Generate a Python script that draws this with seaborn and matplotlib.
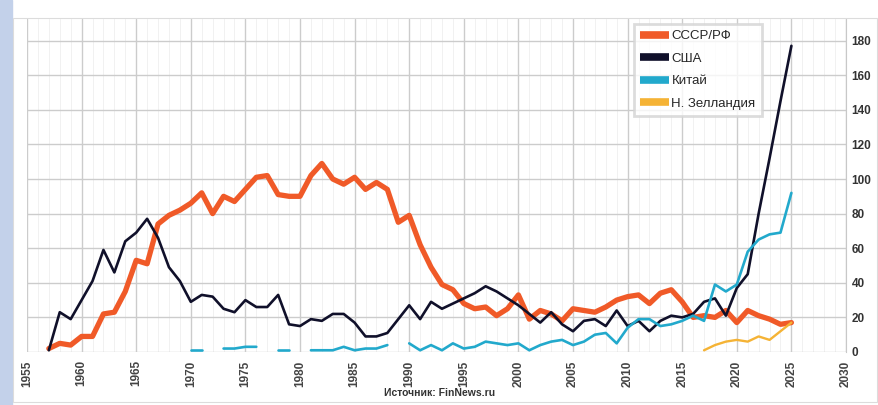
import numpy as np
import pandas as pd
import matplotlib
matplotlib.use("Agg")
import matplotlib.pyplot as plt
import seaborn as sns
from matplotlib.patches import Rectangle
from matplotlib.lines import Line2D

# Launches per year
years = list(range(1957, 2026))

ussr = [2, 5, 4, 9, 9, 22, 23, 35, 53, 51, 74, 79, 82, 86, 92, 80, 90, 87, 94, 101,
        102, 91, 90, 90, 102, 109, 100, 97, 101, 94, 98, 94, 75, 79, 62, 49, 39, 36,
        28, 25, 26, 21, 25, 33, 19, 24, 22, 18, 25, 24, 23, 26, 30, 32, 33, 28, 34,
        36, 29, 20, 21, 20, 24, 17, 24, 21, 19, 16, 17]

usa = [1, 23, 19, 30, 41, 59, 46, 64, 69, 77, 66, 49, 41, 29, 33, 32, 25, 23, 30, 26,
       26, 33, 16, 15, 19, 18, 22, 22, 17, 9, 9, 11, 19, 27, 19, 29, 25, 28, 31, 34,
       38, 35, 31, 27, 22, 17, 23, 16, 12, 18, 19, 15, 24, 15, 18, 12, 18, 21, 20,
       22, 29, 31, 21, 37, 45, 80, 112, 145, 177]

nan = np.nan
china = [nan] * 13 + [1, 1, nan, 2, 2, 3, 3, nan, 1, 1, nan, 1, 1, 1, 3, 1, 2, 2, 4,
         nan, 5, 1, 4, 1, 5, 2, 3, 6, 5, 4, 5, 1, 4, 6, 7, 4, 6, 10, 11, 5, 14, 19,
         19, 15, 16, 18, 21, 18, 39, 35, 39, 58, 65, 68, 69, 92]

nz = [nan] * 60 + [1, 4, 6, 7, 6, 9, 7, 12, 17]

names = ["СССР/РФ", "США", "Китай", "Н. Зелландия"]
colors = ["#f05a28", "#10102a", "#22a9cc", "#f5b335"]
widths = [3.8, 1.9, 1.9, 1.7]

frames = []
for name, vals in zip(names, [ussr, usa, china, nz]):
    d = pd.DataFrame({"year": years, "value": vals, "country": name})
    # split each series where data is missing so gaps stay open
    d["seg"] = d["value"].isna().cumsum()
    frames.append(d.dropna())
df = pd.concat(frames, ignore_index=True)

sns.set_style("white")
plt.rcParams["font.family"] = ["Liberation Sans Narrow", "Liberation Sans", "DejaVu Sans"]

fig = plt.figure(figsize=(8.79, 4.05), dpi=100)
fig.patches.append(Rectangle((0, 0), 12 / 879, 1, transform=fig.transFigure,
                             color="#c3d1ea", zorder=0))
fig.patches.append(Rectangle((13 / 879, 3 / 405), 864 / 879, 384 / 405,
                             transform=fig.transFigure, facecolor="none",
                             edgecolor="#dcdcdc", lw=0.8, zorder=0))

ax = fig.add_axes([27 / 879, 53 / 405, 819 / 879, 333 / 405])

for name, col, lw in zip(names, colors, widths):
    sns.lineplot(data=df[df["country"] == name], x="year", y="value", units="seg",
                 estimator=None, color=col, lw=lw, ax=ax, legend=False,
                 solid_joinstyle="round", solid_capstyle="round")

ax.set_xlim(1955, 2030)
ax.set_ylim(0, 192.5)
ax.set_xticks(range(1955, 2031, 5))
ax.set_xticks(range(1955, 2031, 1), minor=True)
ax.set_yticks(range(0, 181, 20))
ax.grid(True, which="major", color="#cccccc", lw=1.0)
ax.grid(True, which="minor", axis="x", color="#f1f1f1", lw=0.7)
ax.set_axisbelow(True)

for s in ["top", "left", "bottom"]:
    ax.spines[s].set_visible(False)
ax.spines["right"].set_color("#c8c8c8")

ax.yaxis.tick_right()
ax.tick_params(axis="both", which="both", length=0)
ax.tick_params(axis="y", pad=4, labelsize=8.5, labelcolor="#333333")
ax.tick_params(axis="x", pad=6, labelsize=8.5, labelcolor="#444444")
for t in ax.get_xticklabels():
    t.set_rotation(90)
    t.set_fontweight("bold")
for t in ax.get_yticklabels():
    t.set_fontweight("bold")
ax.set_xlabel("")
ax.set_ylabel("")

handles = [Line2D([], [], color=c, lw=5.5, solid_capstyle="butt") for c in colors]
leg = ax.legend(handles, names, loc="upper left", bbox_to_anchor=(0.741, 0.985),
                fontsize=9.5, frameon=True, fancybox=False, handlelength=2.2,
                handletextpad=0.2, labelspacing=0.78, borderpad=0.45, borderaxespad=0)
leg.get_frame().set_edgecolor("#d4d4d4")
leg.get_frame().set_linewidth(2)

fig.text(440 / 879, 1 - 393 / 405, "Источник: FinNews.ru", ha="center", va="center",
         fontsize=7.5, fontweight="bold", color="#333333")

fig.savefig("out.png", dpi=100)
